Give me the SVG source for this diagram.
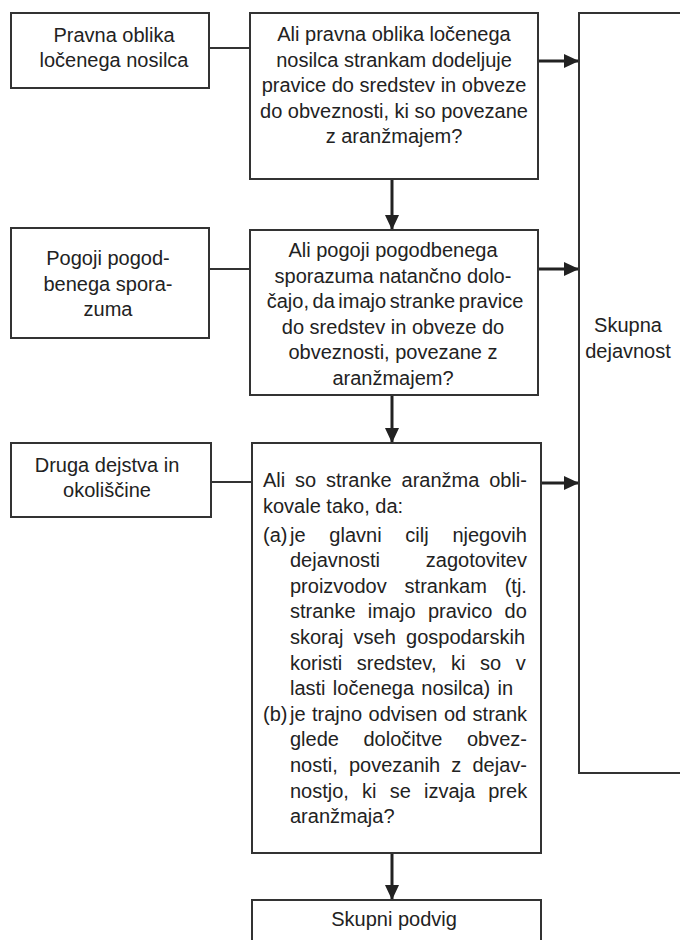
<svg xmlns="http://www.w3.org/2000/svg" width="680" height="940" viewBox="0 0 680 940">
<style>
.box{fill:#fff;stroke:#333;stroke-width:2}
.t{font-family:"Liberation Sans",Arial,sans-serif;font-size:20px;fill:#222}
.c{text-anchor:middle}
.ln{stroke:#333;stroke-width:2;fill:none}
.ar{stroke:#222;stroke-width:3;fill:none}
</style>
<defs>
<marker id="ah" markerUnits="userSpaceOnUse" markerWidth="16" markerHeight="16" refX="15" refY="7" orient="auto">
<path d="M0,0 L15,7 L0,14 Z" fill="#222"/>
</marker>
</defs>
<rect width="680" height="940" fill="#fff"/>
<g id="connectors">
<line class="ln" x1="209" y1="48" x2="250" y2="48"/>
<line class="ln" x1="209" y1="269" x2="250" y2="269"/>
<line class="ln" x1="211" y1="482" x2="252" y2="482"/>
<line class="ar" x1="538" y1="61" x2="579" y2="61" marker-end="url(#ah)"/>
<line class="ar" x1="538" y1="269" x2="579" y2="269" marker-end="url(#ah)"/>
<line class="ar" x1="541" y1="483" x2="579" y2="483" marker-end="url(#ah)"/>
<line class="ar" x1="392" y1="179" x2="392" y2="230" marker-end="url(#ah)"/>
<line class="ar" x1="392" y1="395" x2="392" y2="443" marker-end="url(#ah)"/>
<line class="ar" x1="392" y1="853" x2="392" y2="900" marker-end="url(#ah)"/>
</g>
<g id="n1">
<rect class="box" x="11" y="13" width="198" height="75"/>
<text class="t c" x="114" y="41.5">Pravna oblika</text>
<text class="t c" x="114" y="67">ločenega nosilca</text>
</g>
<g id="n2">
<rect class="box" x="250" y="13" width="288" height="166"/>
<text class="t c" x="394" y="41">Ali pravna oblika ločenega</text>
<text class="t c" x="394" y="66.5">nosilca strankam dodeljuje</text>
<text class="t c" x="394" y="92">pravice do sredstev in obveze</text>
<text class="t c" x="394" y="117.5">do obveznosti, ki so povezane</text>
<text class="t c" x="394" y="143">z aranžmajem?</text>
</g>
<g id="n3">
<rect class="box" x="11" y="228" width="198" height="110"/>
<text class="t c" x="108" y="265">Pogoji pogod-</text>
<text class="t c" x="108" y="290.5">benega spora-</text>
<text class="t c" x="108" y="316">zuma</text>
</g>
<g id="n4">
<rect class="box" x="250" y="230" width="288" height="165"/>
<text class="t c" x="393" y="257">Ali pogoji pogodbenega</text>
<text class="t c" x="393" y="282.5">sporazuma natančno dolo-</text>
<text class="t c" x="395" y="308" word-spacing="-2">čajo, da imajo stranke pravice</text>
<text class="t c" x="393" y="333.5">do sredstev in obveze do</text>
<text class="t c" x="393" y="359">obveznosti, povezane z</text>
<text class="t c" x="393" y="384.5">aranžmajem?</text>
</g>
<g id="n5">
<rect class="box" x="11" y="443" width="200" height="74"/>
<text class="t c" x="107" y="471.5">Druga dejstva in</text>
<text class="t c" x="107" y="497">okoliščine</text>
</g>
<g id="n6">
<rect class="box" x="252" y="443" width="289" height="410"/>
<text class="t" x="263" y="487" word-spacing="4.3">Ali so stranke aranžma obli-</text>
<text class="t" x="263" y="512.5">kovale tako, da:</text>
<text class="t" x="263" y="541.5">(a)</text>
<text class="t" x="290" y="541.5" word-spacing="18.2">je glavni cilj njegovih</text>
<text class="t" x="290" y="567.1" word-spacing="40.2">dejavnosti zagotovitev</text>
<text class="t" x="290" y="592.7" word-spacing="12.3">proizvodov strankam (tj.</text>
<text class="t" x="290" y="618.3" word-spacing="6.7">stranke imajo pravico do</text>
<text class="t" x="290" y="643.9" word-spacing="4.7">skoraj vseh gospodarskih</text>
<text class="t" x="290" y="669.5" word-spacing="9">koristi sredstev, ki so v</text>
<text class="t" x="290" y="695.1" word-spacing="1.7">lasti ločenega nosilca) in</text>
<text class="t" x="263" y="720.7">(b)</text>
<text class="t" x="290" y="720.7" word-spacing="0.9">je trajno odvisen od strank</text>
<text class="t" x="290" y="746.3" word-spacing="19">glede določitve obvez-</text>
<text class="t" x="290" y="771.9" word-spacing="5.6">nosti, povezanih z dejav-</text>
<text class="t" x="290" y="797.5" word-spacing="7.6">nostjo, ki se izvaja prek</text>
<text class="t" x="290" y="823.1">aranžmaja?</text>
</g>
<g id="n7">
<rect class="box" x="579" y="13" width="120" height="760"/>
<text class="t c" x="628" y="332">Skupna</text>
<text class="t c" x="628" y="357.5">dejavnost</text>
</g>
<g id="n8">
<rect class="box" x="252" y="900" width="289" height="60"/>
<text class="t c" x="394" y="926">Skupni podvig</text>
</g>
</svg>
